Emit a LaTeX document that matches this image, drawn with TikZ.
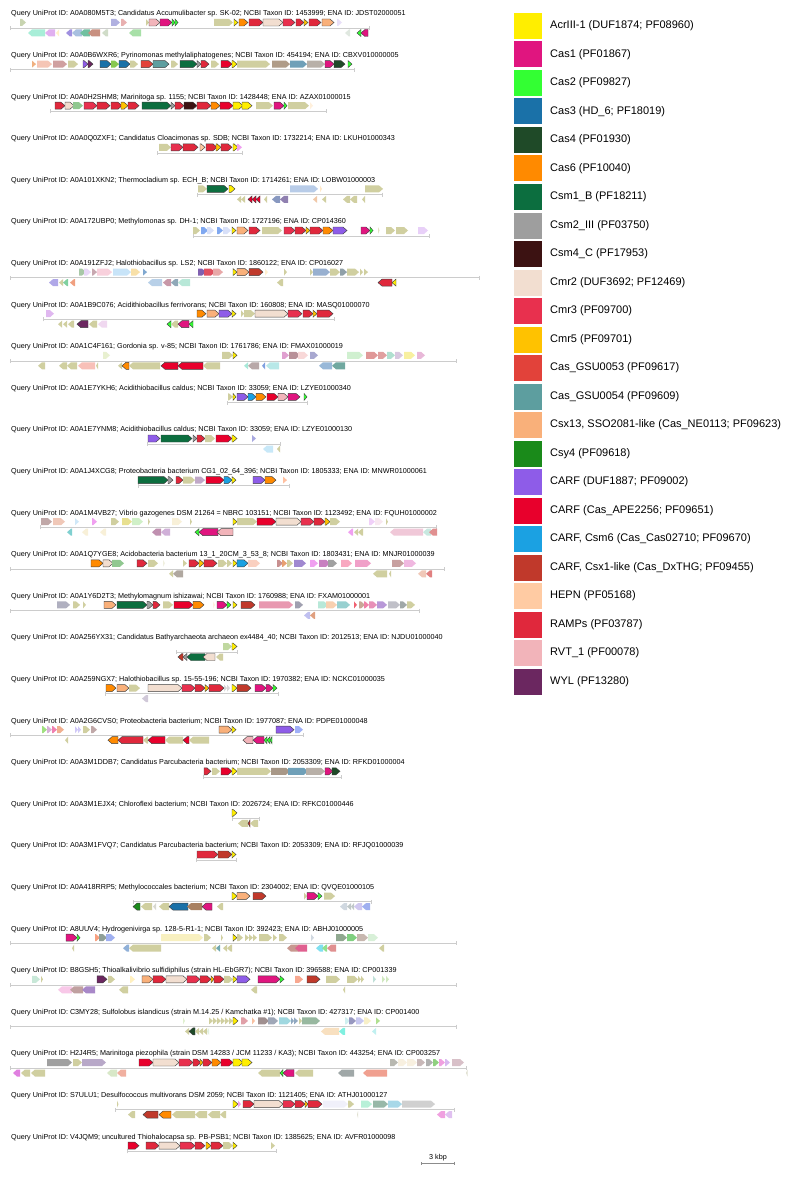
\documentclass[tikz,border=0pt]{standalone}
\usepackage{fontspec}
\setmainfont{Liberation Sans}
\usetikzlibrary{arrows.meta}
\definecolor{acr}{HTML}{FFEE00}
\definecolor{cas1}{HTML}{E0157F}
\definecolor{cas2}{HTML}{33FF33}
\definecolor{cas3}{HTML}{1A71A8}
\definecolor{cas4}{HTML}{1F4A28}
\definecolor{cas6}{HTML}{FF8A00}
\definecolor{csm1}{HTML}{0C6E3F}
\definecolor{csm2}{HTML}{9E9E9E}
\definecolor{csm4}{HTML}{3C1212}
\definecolor{cmr2}{HTML}{F2DED0}
\definecolor{cmr3}{HTML}{E8304E}
\definecolor{cmr5}{HTML}{FFC200}
\definecolor{gsu53}{HTML}{E2423A}
\definecolor{gsu54}{HTML}{5D9E9F}
\definecolor{csx13}{HTML}{F9B07A}
\definecolor{csy4}{HTML}{1A8A1A}
\definecolor{carfd}{HTML}{8E5CE8}
\definecolor{carfa}{HTML}{E8002C}
\definecolor{carfc}{HTML}{1BA1E2}
\definecolor{carfx}{HTML}{C0392B}
\definecolor{hepn}{HTML}{FFCBA3}
\definecolor{ramp}{HTML}{E0283C}
\definecolor{rvt}{HTML}{F2B4BA}
\definecolor{wyl}{HTML}{6B2760}
\tikzset{
 ttl/.style={anchor=west,inner sep=0pt,font=\fontsize{7.2}{8}\selectfont},
 lgt/.style={anchor=west,inner sep=0pt,font=\fontsize{11}{13}\selectfont},
 swatch/.style={minimum width=28pt,minimum height=26pt,inner sep=0pt,draw=none},
 ctg/.style={draw=black!20,line width=0.9pt,{Bar[width=4pt]}-{Bar[width=4pt]}},
 casg/.style={draw=black!75,line width=0.45pt},
}
\newcommand\gF[3]{\pgfmathsetmacro\gHd{min(4,#2-#1)}\filldraw[casg,fill=#3] (#1,5) -- ({#2-\gHd},5) -- (#2,8.5) -- ({#2-\gHd},12) -- (#1,12) -- cycle;}
\newcommand\gR[3]{\pgfmathsetmacro\gHd{min(4,#2-#1)}\filldraw[casg,fill=#3] (#2,15.5) -- ({#1+\gHd},15.5) -- (#1,19) -- ({#1+\gHd},22.5) -- (#2,22.5) -- cycle;}
\newcommand\oF[3]{\definecolor{ocol}{HTML}{#3}\pgfmathsetmacro\gHd{min(4,#2-#1)}\fill[ocol] (#1,5) -- ({#2-\gHd},5) -- (#2,8.5) -- ({#2-\gHd},12) -- (#1,12) -- cycle;}
\newcommand\oR[3]{\definecolor{ocol}{HTML}{#3}\pgfmathsetmacro\gHd{min(4,#2-#1)}\fill[ocol] (#2,15.5) -- ({#1+\gHd},15.5) -- (#1,19) -- ({#1+\gHd},22.5) -- (#2,22.5) -- cycle;}
\newcommand\kF[2]{\oF{#1}{#2}{D0CFA0}}
\newcommand\kR[2]{\oR{#1}{#2}{D0CFA0}}
\newcommand\contig[3]{\coordinate (#1a) at (#2,14.2); \coordinate (#1b) at (#3,14.2); \draw[ctg] (#1a) -- (#1b);}
\begin{document}
\begin{tikzpicture}[x=1pt,y=-1pt]
\fill[white] (0,0) rectangle (800,1177);
\useasboundingbox (0,0) rectangle (800,1177);
% ---------- Row 1
\begin{scope}[shift={(0,14)}]
\node[ttl] (t1) at (11,0) {Query UniProt ID: A0A080M5T3; Candidatus Accumulibacter sp. SK-02; NCBI Taxon ID: 1453999; ENA ID: JDST02000051};
\contig{c1}{10}{370}
\oF{20}{26}{C8D4B0}\oF{111}{120}{B0B0E0}\oF{121}{127}{E8B0B0}\kF{146}{149}
\gF{149}{160}{rvt}\gF{160}{172}{cas1}\gF{172}{175}{cas2}\gF{175}{178}{cas2}
\kF{214}{233}\gF{234}{238}{acr}\gF{239}{248}{cas6}\gF{249}{263}{ramp}\gF{263}{283}{cmr2}
\gF{283}{295}{cmr3}\gF{296}{304}{ramp}\gF{304}{308}{cmr5}\gF{309}{321}{ramp}\gF{322}{334}{csx13}\oF{337}{342}{E8E0F8}
\oR{28}{45}{A8EED8}\oR{45}{55}{E0B0F0}\oR{56}{59}{FFF0C8}\oR{66}{72}{A090E0}\oR{72}{82}{A8C0E0}
\oR{80}{90}{70C0A0}\oR{88}{100}{C89080}\oR{102}{108}{D0DCC8}\oR{129}{141}{A8E0A8}\oR{345}{350}{E0E8E0}
\gR{357}{361}{cas2}\gR{361}{368}{cas1}
\end{scope}
% ---------- Row 2
\begin{scope}[shift={(0,55.6)}]
\node[ttl] (t2) at (11,0) {Query UniProt ID: A0A0B6WXR6; Pyrinomonas methylaliphatogenes; NCBI Taxon ID: 454194; ENA ID: CBXV010000005};
\contig{c2}{10}{355}
\oF{32}{36}{F0B080}\oF{37}{52}{F5C5B5}\oF{53}{67}{D0A0A0}\kF{68}{78}
\gF{83}{88}{carfd}\gF{88}{93}{wyl}\gF{100}{111}{cas3}\oF{111}{119}{88C850}\gF{119}{130}{cas3}\kF{130}{138}
\gF{141}{153}{gsu53}\gF{153}{169}{gsu54}\kF{171}{178}\gF{180}{197}{csm1}\gF{197}{201}{csm2}\gF{201}{209}{ramp}
\kF{211}{219}\gF{221}{232}{carfa}\gF{232}{237}{acr}\kF{237}{270}\oF{272}{290}{B09C88}\oF{290}{307}{70A0B8}
\oF{307}{325}{B8B0A8}\gF{325}{334}{cas1}\gF{334}{345}{cas4}\gF{348}{352}{cas2}
\end{scope}
% ---------- Row 3
\begin{scope}[shift={(0,97.2)}]
\node[ttl] (t3) at (11,0) {Query UniProt ID: A0A0H2SHM8; Marinitoga sp. 1155; NCBI Taxon ID: 1428448; ENA ID: AZAX01000015};
\contig{c3}{50}{327}
\gF{55}{65}{ramp}\gF{65}{74}{cmr2}\oF{73}{83}{90C890}\gF{84}{97}{cmr3}\gF{97}{110}{ramp}\gF{111}{122}{ramp}
\gF{121}{128}{cmr5}\gF{128}{139}{ramp}\gF{142}{171}{csm1}\gF{171}{175}{csm2}\gF{175}{184}{ramp}\gF{184}{197}{csm4}
\gF{197}{211}{ramp}\gF{211}{220}{cas6}\gF{220}{233}{carfa}\gF{233}{243}{acr}\gF{242}{252}{acr}\kF{256}{273}
\gF{274}{284}{cas1}\gF{284}{287}{cas2}\kF{288}{309}\oF{310}{313}{FFF0DC}
\end{scope}
% ---------- Row 4
\begin{scope}[shift={(0,138.8)}]
\node[ttl] (t4) at (11,0) {Query UniProt ID: A0A0Q0ZXF1; Candidatus Cloacimonas sp. SDB; NCBI Taxon ID: 1732214; ENA ID: LKUH01000343};
\contig{c4}{157}{243}
\kF{159}{171}\gF{171}{183}{cmr3}\gF{183}{198}{ramp}\gF{200}{205}{hepn}\gF{206}{217}{ramp}\gF{216}{221}{cmr5}
\gF{221}{232}{ramp}\gF{233}{238}{acr}\oF{237}{242}{F0A0F0}
\end{scope}
% ---------- Row 5
\begin{scope}[shift={(0,180.4)}]
\node[ttl] (t5) at (11,0) {Query UniProt ID: A0A101XKN2; Thermocladium sp. ECH\_B; NCBI Taxon ID: 1714261; ENA ID: LOBW01000003};
\contig{c5}{197}{383}
\kF{198}{207}\gF{207}{228}{csm1}\gF{229}{235}{acr}\oF{290}{318}{B8CCE8}\oF{320}{322}{FFE8C8}\kF{365}{383}
\kR{237}{241}\kR{241}{245}\gR{248}{252}{carfa}\gR{252}{256}{carfa}\gR{256}{260}{carfa}\kR{264}{267}
\oR{272}{280}{8898C0}\oR{280}{288}{9080B0}\oR{313}{317}{F0C8A8}\kR{322}{326}\kR{343}{350}\kR{350}{357}\kR{362}{365}
\end{scope}
% ---------- Row 6
\begin{scope}[shift={(0,222)}]
\node[ttl] (t6) at (11,0) {Query UniProt ID: A0A172UBP0; Methylomonas sp. DH-1; NCBI Taxon ID: 1727196; ENA ID: CP014360};
\contig{c6}{193}{430}
\kF{193}{200}\oF{201}{208}{80A8F0}\oF{207}{214}{D8E0F8}\oF{217}{223}{80A8F0}\oF{223}{231}{D8E0F8}
\gF{232}{236}{acr}\gF{237}{248}{csx13}\gF{249}{260}{ramp}\kF{262}{282}\gF{284}{295}{cmr3}\gF{295}{306}{ramp}
\gF{306}{310}{cmr5}\gF{310}{323}{ramp}\gF{323}{333}{cas6}\gF{333}{347}{carfd}\gF{361}{370}{cas1}\gF{370}{373}{cas2}
\oF{378}{379.5}{E0E0C0}\kF{386}{395}\kF{396}{408}\oF{418}{428}{E8D0F8}
\end{scope}
% ---------- Row 7
\begin{scope}[shift={(0,263.6)}]
\node[ttl] (t7) at (11,0) {Query UniProt ID: A0A191ZFJ2; Halothiobacillus sp. LS2; NCBI Taxon ID: 1860122; ENA ID: CP016027};
\contig{c7}{10}{480}
\oF{79}{86}{A8C8A8}\oF{84}{91}{E8D8F8}\oF{92}{97}{C8A8B0}\oF{97}{112}{F8D0DC}\oF{113}{131}{C8E4F8}
\oF{131}{140}{F8E0A8}\oF{143}{147}{80A8D0}\oF{198}{206}{8060B0}\oF{204}{215}{E05060}\oF{213}{223}{E8A8A8}
\gF{233}{237}{acr}\gF{237}{249}{csx13}\gF{249}{263}{carfx}\oF{265}{268}{FFF0D0}\kF{284}{287}\kF{310}{313}
\oF{313}{330}{98B0D0}\kF{330}{340}\oF{340}{347}{90A0A8}\kF{347}{359}\kF{360}{363}\kF{364}{368}
\oR{49}{58}{B0A8E8}\kR{59}{63}\oR{63}{68}{80D0A0}\oR{70}{75}{F0A080}\oR{148}{162}{B8D0E8}\oR{163}{171}{C898A8}
\oR{171}{178}{90A8B8}\oR{178}{190}{B8E8D8}\kR{277}{283}\gR{378}{392}{ramp}\gR{392}{396}{acr}
\end{scope}
% ---------- Row 8
\begin{scope}[shift={(0,305.2)}]
\node[ttl] (t8) at (11,0) {Query UniProt ID: A0A1B9C076; Acidithiobacillus ferrivorans; NCBI Taxon ID: 160808; ENA ID: MASQ01000070};
\contig{c8}{43}{335}
\oF{46}{54}{E0B8F0}\gF{197}{206}{cas6}\gF{207}{219}{csx13}\gF{219}{232}{carfd}\gF{232}{236}{acr}\kF{241}{244}
\kF{244}{255}\gF{255}{288}{cmr2}\gF{288}{302}{cmr3}\gF{303}{313}{ramp}\gF{313}{317}{cmr5}\gF{317}{333}{ramp}
\kR{58}{62}\kR{63}{67}\kR{68}{74}\gR{77}{88}{wyl}\kR{89}{97}\oR{98}{107}{F0D8F0}
\gR{167}{171}{cas2}\kR{171}{178}\gR{178}{189}{cas1}\gR{189}{193}{cas2}
\end{scope}
% ---------- Row 9
\begin{scope}[shift={(0,346.8)}]
\node[ttl] (t9) at (11,0) {Query UniProt ID: A0A1C4F161; Gordonia sp. v-85; NCBI Taxon ID: 1761786; ENA ID: FMAX01000019};
\contig{c9}{10}{457}
\oF{103}{110}{E8F0D0}\kF{222}{233}\gF{233}{237}{acr}\oF{282}{289}{E0A0D0}\oF{289}{300}{B89098}\oF{298}{308}{F8D8D8}
\oF{310}{318}{A8A8D0}\oF{347}{363}{D0F0D0}\oF{366}{378}{E09898}\oF{378}{387}{E0A0A0}\oF{387}{395}{B0E0D0}
\oF{395}{403}{D8C8E0}\oF{404}{415}{F8F0A0}\oF{417}{425}{E8B8D8}
\kR{38}{45}\kR{59}{67}\kR{67}{77}\oR{78}{95}{F8C0B8}\kR{96}{98}\kR{118}{122}\gR{122}{129}{cas6}\kR{129}{160}
\gR{161}{178}{carfa}\gR{178}{203}{carfa}\kR{203}{220}\oR{244}{248}{A8E8D8}\oR{248}{259}{B8A8A8}\oR{262}{265}{80A0E0}
\oR{266}{279}{B8E8E8}\oR{319}{332}{98B8D8}\oR{332}{345}{70A8A0}
\end{scope}
% ---------- Row 10
\begin{scope}[shift={(0,388.4)}]
\node[ttl] (t10) at (11,0) {Query UniProt ID: A0A1E7YKH6; Acidithiobacillus caldus; NCBI Taxon ID: 33059; ENA ID: LZYE01000340};
\contig{c10}{227}{308}
\kF{228}{233}\gF{233}{236}{acr}\gF{237}{248}{carfd}\gF{248}{256}{carfc}\gF{256}{266}{cas6}\gF{267}{278}{carfa}
\gF{278}{288}{rvt}\gF{288}{300}{cas1}\gF{304}{307}{cas2}
\end{scope}
% ---------- Row 11
\begin{scope}[shift={(0,430)}]
\node[ttl] (t11) at (11,0) {Query UniProt ID: A0A1E7YNM8; Acidithiobacillus caldus; NCBI Taxon ID: 33059; ENA ID: LZYE01000130};
\contig{c11}{147}{281}
\gF{148}{160}{carfd}\gF{161}{192}{csm1}\gF{193}{197}{csm2}\gF{197}{205}{ramp}\kF{205}{215}\gF{216}{232}{carfa}
\gF{232}{237}{acr}\oF{252}{256}{A8A8E0}
\oR{263}{273}{C8E8F8}\kR{277}{280}
\end{scope}
% ---------- Row 12
\begin{scope}[shift={(0,471.6)}]
\node[ttl] (t12) at (11,0) {Query UniProt ID: A0A1J4XCG8; Proteobacteria bacterium CG1\_02\_64\_396; NCBI Taxon ID: 1805333; ENA ID: MNWR01000061};
\contig{c12}{138}{290}
\gF{138}{168}{csm1}\gF{168}{173}{csm2}\gF{176}{183}{ramp}\kF{183}{195}\oF{195}{205}{C0A8C8}\gF{206}{224}{carfa}
\gF{224}{232}{carfc}\gF{232}{236}{acr}\gF{253}{265}{carfd}\gF{265}{276}{cas6}\oF{283}{287}{FFC0A0}
\end{scope}
% ---------- Row 13
\begin{scope}[shift={(0,513.2)}]
\node[ttl] (t13) at (11,0) {Query UniProt ID: A0A1M4VB27; Vibrio gazogenes DSM 21264 = NBRC 103151; NCBI Taxon ID: 1123492; ENA ID: FQUH01000002};
\contig{c13}{40}{437}
\oF{41}{52}{C0A8A8}\oF{53}{65}{F0C8B8}\oF{75}{79}{D0E8F8}\oF{92}{97}{F0A0F0}\kF{111}{119}\oF{122}{132}{E8E090}
\oF{132}{143}{D0F0C8}\kF{148}{150}\oF{172}{182}{F8F0D8}\kF{190}{192}\gF{233}{237}{acr}\kF{237}{257}
\gF{257}{276}{carfa}\gF{276}{301}{cmr2}\gF{301}{314}{cmr3}\gF{314}{325}{ramp}\gF{325}{330}{cmr5}\kF{330}{340}
\oF{369}{375}{F0D0F8}\oF{375}{383}{F8E8F0}\kF{386}{388}
\oR{67}{72}{80D0D0}\oR{82}{88}{F8F0D8}\oR{100}{106}{F8F0D8}\oR{152}{161}{C090B0}\oR{161}{170}{D0B0D8}
\gR{195}{199}{cas2}\gR{199}{218}{cas1}\gR{217}{233}{rvt}\oR{348}{353}{F0A0F0}\kR{354}{358}\kR{358}{363}
\oR{390}{423}{F0C8D8}\oR{423}{431}{C8E8E0}\oR{429}{437}{E09090}
\end{scope}
% ---------- Row 14
\begin{scope}[shift={(0,554.8)}]
\node[ttl] (t14) at (11,0) {Query UniProt ID: A0A1Q7YGE8; Acidobacteria bacterium 13\_1\_20CM\_3\_53\_8; NCBI Taxon ID: 1803431; ENA ID: MNJR01000039};
\contig{c14}{10}{445}
\gF{91}{103}{cas6}\gF{103}{113}{cmr2}\oF{112}{124}{90C890}\gF{137}{147}{ramp}\kF{148}{158}\oF{163}{165}{F0F0E0}
\kF{183}{187}\gF{189}{199}{ramp}\gF{199}{204}{cmr5}\gF{204}{217}{ramp}\kF{218}{227}\kF{227}{232}\gF{233}{237}{acr}
\gF{237}{248}{carfc}\oF{248}{260}{FAD0C0}\oF{277}{283}{C89090}\oF{282}{287}{E8A070}\kF{287}{293}\oF{294}{306}{A088D0}
\oF{310}{318}{F0A0F0}\oF{319}{330}{C880C0}\oF{328}{337}{A0A0A0}\oF{341}{352}{F8A8C0}\oF{355}{371}{F0A0C8}
\oF{392}{404}{C8A0A0}\oF{404}{416}{F0B8E0}
\kR{169}{173}\oR{173}{183}{B0A8A0}\kR{373}{387}\kR{389}{391}\oR{418}{426}{F0C8B8}\oR{426}{432}{E08080}
\end{scope}
% ---------- Row 15
\begin{scope}[shift={(0,596.4)}]
\node[ttl] (t15) at (11,0) {Query UniProt ID: A0A1Y6D2T3; Methylomagnum ishizawai; NCBI Taxon ID: 1760988; ENA ID: FXAM01000001};
\contig{c15}{10}{420}
\oF{57}{70}{B0B0C0}\kF{73}{80}\kF{83}{86}\gF{104}{116}{csx13}\gF{117}{147}{csm1}\gF{147}{153}{csm2}\gF{153}{160}{ramp}
\kF{163}{173}\gF{174}{193}{carfa}\gF{193}{204}{cas6}\oF{213}{215}{FFF0E0}\gF{217}{227}{cas1}\gF{227}{231}{cas2}
\gF{233}{237}{acr}\gF{241}{255}{carfx}\oF{259}{293}{E898B0}\oF{295}{303}{A0A0B0}\oF{318}{328}{B8E8D8}
\oF{326}{337}{F8D0B0}\oF{337}{350}{98D0D0}\oF{354}{357}{F06070}\oF{359}{365}{C8A898}\oF{364}{369}{F080A8}
\oF{369}{377}{E890B8}\oF{377}{387}{B898D8}\oF{388}{400}{C0C0C8}\oF{400}{407}{A0A8A8}\kF{407}{415}
\oR{304}{310}{C0C0F0}\oR{310}{315}{E0A080}
\end{scope}
% ---------- Row 16
\begin{scope}[shift={(0,638)}]
\node[ttl] (t16) at (11,0) {Query UniProt ID: A0A256YX31; Candidatus Bathyarchaeota archaeon ex4484\_40; NCBI Taxon ID: 2012513; ENA ID: NJDU01000040};
\contig{c16}{176}{238}
\oF{223}{232}{C0D8A0}\gF{232}{237}{acr}
\gR{178}{183}{carfx}\gR{183}{187}{csm2}\gR{187}{205}{csm1}\gR{203}{215}{cmr2}\kR{216}{223}
\end{scope}
% ---------- Row 17
\begin{scope}[shift={(0,679.6)}]
\node[ttl] (t17) at (11,0) {Query UniProt ID: A0A259NGX7; Halothiobacillus sp. 15-55-196; NCBI Taxon ID: 1970382; ENA ID: NCKC01000035};
\contig{c17}{105}{279}
\gF{106}{116}{cas6}\gF{117}{129}{csx13}\kF{129}{140}\gF{148}{182}{cmr2}\gF{182}{195}{cmr3}\gF{195}{205}{ramp}
\gF{205}{209}{cmr5}\gF{209}{224}{ramp}\oF{224}{227}{D8D8D8}\oF{227}{230}{D8D8D8}\gF{232}{237}{acr}\gF{237}{251}{carfx}
\gF{255}{266}{cas1}\gF{266}{273}{cas1}\gF{273}{277}{cas2}
\oR{142}{148}{D0C8D8}
\end{scope}
% ---------- Row 18
\begin{scope}[shift={(0,721.2)}]
\node[ttl] (t18) at (11,0) {Query UniProt ID: A0A2G6CVS0; Proteobacteria bacterium; NCBI Taxon ID: 1977087; ENA ID: PDPE01000048};
\contig{c18}{10}{304}
\oF{42}{47}{A0E080}\oF{47}{52}{D8B0D8}\oF{52}{57}{F080B0}\oF{57}{64}{F0B090}\oF{75}{78}{D0C8F8}\oF{78}{81}{D0C8F8}
\kF{83}{90}\oF{91}{97}{C0A8A8}\gF{219}{232}{csx13}\gF{232}{236}{acr}\gF{276}{294}{carfd}\oF{295}{303}{A0B0F8}
\kR{65}{68}\gR{108}{118}{cas6}\gR{118}{143}{ramp}\kR{143}{148}\gR{148}{165}{carfa}\kR{165}{183}\gR{183}{189}{carfa}
\kR{189}{209}\gR{243}{253}{rvt}\gR{253}{264}{cas1}\gR{264}{267}{cas2}\gR{267}{270}{cas2}\gR{270}{272}{cas2}
\end{scope}
% ---------- Row 19
\begin{scope}[shift={(0,762.8)}]
\node[ttl] (t19) at (11,0) {Query UniProt ID: A0A3M1DDB7; Candidatus Parcubacteria bacterium; NCBI Taxon ID: 2053309; ENA ID: RFKD01000004};
\contig{c19}{203}{342}
\gF{204}{211}{ramp}\kF{212}{220}\gF{221}{232}{carfa}\gF{232}{237}{acr}\kF{237}{271}\oF{271}{290}{A89888}
\oF{288}{308}{70A0B8}\oF{306}{325}{B8B0A8}\gF{325}{333}{cas1}\gF{332}{340}{cas4}
\end{scope}
% ---------- Row 20
\begin{scope}[shift={(0,804.4)}]
\node[ttl] (t20) at (11,0) {Query UniProt ID: A0A3M1EJX4; Chloroflexi bacterium; NCBI Taxon ID: 2026724; ENA ID: RFKC01000446};
\contig{c20}{232}{260}
\gF{232}{237}{acr}
\kR{238}{248}\gR{248}{250}{carfx}\kR{250}{258}
\end{scope}
% ---------- Row 21
\begin{scope}[shift={(0,846)}]
\node[ttl] (t21) at (11,0) {Query UniProt ID: A0A3M1FVQ7; Candidatus Parcubacteria bacterium; NCBI Taxon ID: 2053309; ENA ID: RFJQ01000039};
\contig{c21}{196}{237}
\gF{197}{218}{ramp}\gF{218}{232}{carfx}\gF{232}{236}{acr}
\end{scope}
% ---------- Row 22
\begin{scope}[shift={(0,887.6)}]
\node[ttl] (t22) at (11,0) {Query UniProt ID: A0A418RRP5; Methylococcales bacterium; NCBI Taxon ID: 2304002; ENA ID: QVQE01000105};
\contig{c22}{133}{372}
\gF{232}{237}{acr}\gF{237}{250}{csx13}\gF{253}{266}{carfx}\kF{304}{307}\gF{307}{318}{cas1}\gF{318}{322}{cas2}\kF{324}{335}
\gR{133}{140}{csy4}\kR{141}{152}\oR{153}{156}{D8D8D0}\kR{159}{169}\gR{169}{188}{cas3}\oR{187}{202}{A88060}
\gR{202}{212}{cas1}\kR{217}{223}\oR{340}{347}{D0D8E0}\oR{347}{351}{C0C8C8}\oR{351}{354}{C0C8C8}\oR{354}{362}{D0C8F0}\oR{362}{370}{A0B0F0}
\end{scope}
% ---------- Row 23
\begin{scope}[shift={(0,929.2)}]
\node[ttl] (t23) at (11,0) {Query UniProt ID: A8UUV4; Hydrogenivirga sp. 128-5-R1-1; NCBI Taxon ID: 392423; ENA ID: ABHJ01000005};
\contig{c23}{10}{457}
\gF{66}{77}{cas1}\gF{77}{80}{cas2}\oF{95}{100}{F8A080}\oF{99}{107}{90A098}\oF{106}{115}{A0B0F0}\oF{161}{203}{F8F0C0}
\kF{204}{211}\kF{221}{223}\gF{233}{237}{acr}\kF{237}{243}\kF{245}{249}\kF{249}{253}\kF{253}{257}\kF{259}{272}
\kF{273}{277}\kF{279}{287}\oF{311}{314}{D0D8E0}\oF{336}{347}{90A890}\oF{347}{357}{80D080}\oF{357}{368}{C8B8B0}\oF{368}{378}{D8F0D8}
\kR{72}{74}\oR{123}{129}{90B0D8}\kR{129}{161}\kR{212}{216}\oR{216}{220}{70A8B0}\kR{223}{227}\kR{227}{232}
\oR{287}{299}{C89890}\oR{295}{307}{E06090}\oR{316}{323}{80E0F0}\oR{322}{327}{90E090}\oR{327}{336}{E09090}\kR{379}{384}
\end{scope}
% ---------- Row 24
\begin{scope}[shift={(0,970.8)}]
\node[ttl] (t24) at (11,0) {Query UniProt ID: B8GSH5; Thioalkalivibrio sulfidiphilus (strain HL-EbGR7); NCBI Taxon ID: 396588; ENA ID: CP001339};
\contig{c24}{10}{457}
\oF{32}{40}{C8E8D8}\kF{41}{43}\gF{97}{107}{wyl}\kF{108}{115}\oF{130}{135}{FFF0C0}\gF{142}{153}{csx13}\gF{153}{166}{ramp}
\gF{166}{187}{cmr2}\gF{187}{200}{cmr3}\gF{200}{211}{ramp}\gF{211}{214}{cmr5}\gF{214}{224}{ramp}\kF{224}{233}\gF{233}{237}{acr}
\gF{237}{250}{carfd}\gF{258}{280}{cas1}\gF{280}{284}{cas2}\oF{295}{303}{F8A890}\gF{307}{320}{carfx}\kF{326}{340}
\kF{347}{358}\kF{358}{361}\kF{361}{364}\oF{373}{376}{C0E0D8}\oF{382}{385}{D0E8C0}\oF{386}{389}{D0E8C0}
\oR{58}{72}{F8C8E8}\oR{70}{83}{C0A0A0}\oR{82}{95}{A888C8}\kR{119}{128}\kR{251}{257}\kR{343}{345}
\end{scope}
% ---------- Row 25
\begin{scope}[shift={(0,1012.4)}]
\node[ttl] (t25) at (11,0) {Query UniProt ID: C3MY28; Sulfolobus islandicus (strain M.14.25 / Kamchatka \#1); NCBI Taxon ID: 427317; ENA ID: CP001400};
\contig{c25}{10}{457}
\oF{183}{185}{E0F0D0}\kF{209}{213}\kF{213}{217}\kF{217}{221}\kF{221}{225}\kF{225}{229}\kF{229}{233}\gF{233}{238}{acr}
\oF{241}{248}{E0A0A8}\oF{252}{255}{F8C0A0}\oF{258}{269}{A09090}\oF{268}{278}{A0A8B8}\oF{279}{291}{A0D8E0}
\oF{291}{294}{90A8C0}\oF{294}{298}{90A8C0}\kF{299}{302}\oF{302}{320}{98B8A0}\oF{345}{350}{D0F0F0}\oF{349}{356}{9898C0}
\oF{356}{364}{C8C8F0}\oF{364}{371}{F8F0C8}\oF{376}{380}{B0E090}
\kR{185}{189}\gR{189}{195}{cas4}\kR{195}{199}\kR{199}{203}\kR{203}{207}\oR{207}{209}{E0F0E0}
\oR{321}{339}{F8E0C0}\oR{339}{345}{80F0E0}\oR{372}{376}{C0F0F0}
\end{scope}
% ---------- Row 26
\begin{scope}[shift={(0,1054)}]
\node[ttl] (t26) at (11,0) {Query UniProt ID: H2J4R5; Marinitoga piezophila (strain DSM 14283 / JCM 11233 / KA3); NCBI Taxon ID: 443254; ENA ID: CP003257};
\contig{c26}{10}{467}
\oF{47}{72}{A0A0A0}\kF{73}{82}\oF{82}{106}{B8A8C8}\gF{139}{153}{carfa}\gF{153}{179}{cmr2}\gF{179}{193}{cmr3}
\gF{193}{201}{ramp}\gF{200}{203}{cmr5}\gF{203}{212}{ramp}\gF{212}{221}{cas6}\gF{221}{233}{carfa}\gF{233}{243}{acr}
\gF{242}{252}{acr}\oF{390}{398}{B8B8B0}\oF{398}{407}{F8F0E0}\oF{407}{417}{F8F0E0}\oF{417}{425}{C8B8B8}
\oF{426}{433}{B0B0B0}\oF{433}{439}{90D080}\oF{439}{445}{F0A0E0}\oF{445}{450}{D8B8F0}\oF{452}{464}{D8C0C8}
\oR{13}{20}{E080E0}\kR{21}{30}\kR{31}{45}\oR{107}{117}{D8E8C8}\oR{117}{126}{F0B0A0}\kR{258}{280}
\gR{280}{283}{cas2}\gR{283}{294}{cas1}\kR{295}{313}\oR{338}{354}{A0A8A8}\oR{363}{387}{F0A090}\oR{466}{467.5}{E0E0D0}
\end{scope}
% ---------- Row 27
\begin{scope}[shift={(0,1095.6)}]
\node[ttl] (t27) at (11,0) {Query UniProt ID: S7ULU1; Desulfococcus multivorans DSM 2059; NCBI Taxon ID: 1121405; ENA ID: ATHJ01000127};
\contig{c27}{115}{455}
\kF{117}{118.5}\gF{233}{238}{acr}\oF{238}{241}{F0A0F0}\gF{243}{254}{ramp}\gF{254}{283}{cmr2}\gF{283}{295}{cmr3}
\gF{295}{305}{ramp}\gF{305}{308}{cmr5}\gF{308}{322}{ramp}\oF{323}{348}{F0F0FA}\kF{348}{354}\oF{361}{372}{B8F0D8}
\oF{373}{388}{98B8A8}\oF{388}{402}{A8D8E8}\oF{402}{435}{D0D0D0}
\kR{128}{135}\gR{143}{158}{carfx}\gR{159}{171}{cas6}\kR{172}{195}\kR{195}{207}\kR{208}{220}\kR{220}{226}
\oR{357}{358}{E0E0D0}\oR{437}{445}{F0A0E0}\oR{445}{452}{E0C0F0}
\end{scope}
% ---------- Row 28
\begin{scope}[shift={(0,1137.2)}]
\node[ttl] (t28) at (11,0) {Query UniProt ID: V4JQM9; uncultured Thiohalocapsa sp. PB-PSB1; NCBI Taxon ID: 1385625; ENA ID: AVFR01000098};
\contig{c28}{127}{277}
\gF{128}{139}{carfa}\gF{146}{159}{ramp}\gF{159}{180}{cmr2}\gF{180}{195}{cmr3}\gF{195}{205}{ramp}\gF{206}{211}{cmr5}
\gF{211}{223}{ramp}\kF{223}{233}\gF{233}{237}{acr}\kF{271}{275}
\end{scope}
% ---------- scale bar
\coordinate (sba) at (421,1163);
\coordinate (sbb) at (455,1163);
\draw[draw=black!45,line width=0.6pt,{Bar[width=3pt]}-{Bar[width=3pt]}] (sba) -- (sbb);
\node[font=\fontsize{7.2}{8}\selectfont,inner sep=0pt] (sbt) at (438,1157.5) {3 kbp};
% ---------- legend
\node[swatch,fill=acr] (l1) at (528,26) {};\node[lgt] (lt1) at (550,26) {AcrIII-1 (DUF1874; PF08960)};
\node[swatch,fill=cas1] (l2) at (528,54.5) {};\node[lgt] (lt2) at (550,54.5) {Cas1 (PF01867)};
\node[swatch,fill=cas2] (l3) at (528,83) {};\node[lgt] (lt3) at (550,83) {Cas2 (PF09827)};
\node[swatch,fill=cas3] (l4) at (528,111.5) {};\node[lgt] (lt4) at (550,111.5) {Cas3 (HD\_6; PF18019)};
\node[swatch,fill=cas4] (l5) at (528,140) {};\node[lgt] (lt5) at (550,140) {Cas4 (PF01930)};
\node[swatch,fill=cas6] (l6) at (528,168.5) {};\node[lgt] (lt6) at (550,168.5) {Cas6 (PF10040)};
\node[swatch,fill=csm1] (l7) at (528,197) {};\node[lgt] (lt7) at (550,197) {Csm1\_B (PF18211)};
\node[swatch,fill=csm2] (l8) at (528,225.5) {};\node[lgt] (lt8) at (550,225.5) {Csm2\_III (PF03750)};
\node[swatch,fill=csm4] (l9) at (528,254) {};\node[lgt] (lt9) at (550,254) {Csm4\_C (PF17953)};
\node[swatch,fill=cmr2] (l10) at (528,282.5) {};\node[lgt] (lt10) at (550,282.5) {Cmr2 (DUF3692; PF12469)};
\node[swatch,fill=cmr3] (l11) at (528,311) {};\node[lgt] (lt11) at (550,311) {Cmr3 (PF09700)};
\node[swatch,fill=cmr5] (l12) at (528,339.5) {};\node[lgt] (lt12) at (550,339.5) {Cmr5 (PF09701)};
\node[swatch,fill=gsu53] (l13) at (528,368) {};\node[lgt] (lt13) at (550,368) {Cas\_GSU0053 (PF09617)};
\node[swatch,fill=gsu54] (l14) at (528,396.5) {};\node[lgt] (lt14) at (550,396.5) {Cas\_GSU0054 (PF09609)};
\node[swatch,fill=csx13] (l15) at (528,425) {};\node[lgt] (lt15) at (550,425) {Csx13, SSO2081-like (Cas\_NE0113; PF09623)};
\node[swatch,fill=csy4] (l16) at (528,453.5) {};\node[lgt] (lt16) at (550,453.5) {Csy4 (PF09618)};
\node[swatch,fill=carfd] (l17) at (528,482) {};\node[lgt] (lt17) at (550,482) {CARF (DUF1887; PF09002)};
\node[swatch,fill=carfa] (l18) at (528,510.5) {};\node[lgt] (lt18) at (550,510.5) {CARF (Cas\_APE2256; PF09651)};
\node[swatch,fill=carfc] (l19) at (528,539) {};\node[lgt] (lt19) at (550,539) {CARF, Csm6 (Cas\_Cas02710; PF09670)};
\node[swatch,fill=carfx] (l20) at (528,567.5) {};\node[lgt] (lt20) at (550,567.5) {CARF, Csx1-like (Cas\_DxTHG; PF09455)};
\node[swatch,fill=hepn] (l21) at (528,596) {};\node[lgt] (lt21) at (550,596) {HEPN (PF05168)};
\node[swatch,fill=ramp] (l22) at (528,624.5) {};\node[lgt] (lt22) at (550,624.5) {RAMPs (PF03787)};
\node[swatch,fill=rvt] (l23) at (528,653) {};\node[lgt] (lt23) at (550,653) {RVT\_1 (PF00078)};
\node[swatch,fill=wyl] (l24) at (528,681.5) {};\node[lgt] (lt24) at (550,681.5) {WYL (PF13280)};
\end{tikzpicture}
\end{document}
